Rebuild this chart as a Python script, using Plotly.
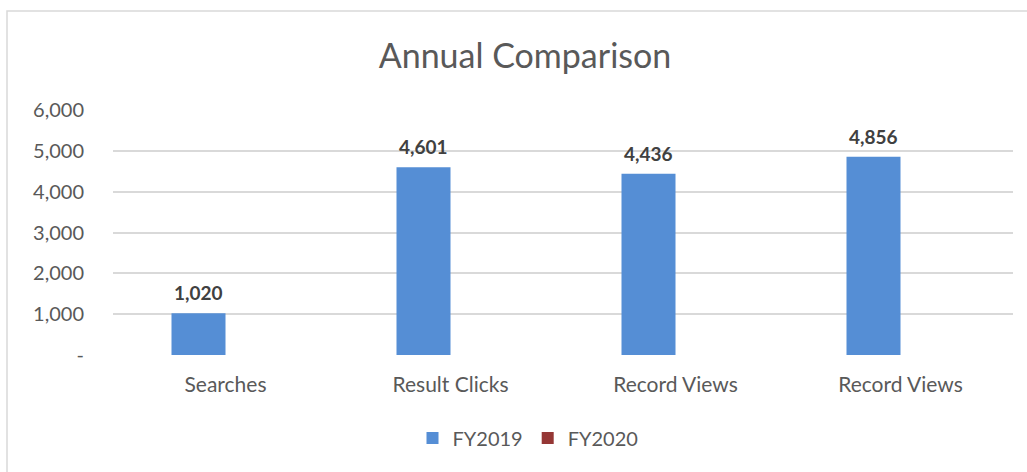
import plotly.graph_objects as go

categories = ["Searches", "Result Clicks", "Record Views", "Record Views"]
fy2019 = [1020, 4601, 4436, 4856]
fy2020 = [0, 0, 0, 0]
y_tickvals = [0, 1000, 2000, 3000, 4000, 5000, 6000]
y_ticktext = ["-", "1,000", "2,000", "3,000", "4,000", "5,000", "6,000"]

FONT = "Lato, 'Open Sans', sans-serif"
idx = list(range(len(categories)))
W = 0.24

fig = go.Figure()
fig.add_trace(go.Bar(x=idx, y=fy2019, name="FY2019", marker_color="#558ED5",
                     width=W, offset=-W, marker_line_width=0))
fig.add_trace(go.Bar(x=idx, y=fy2020, name="FY2020", marker_color="#953735",
                     width=W, offset=0, marker_line_width=0))

for i, v in zip(idx, fy2019):
    fig.add_annotation(x=i - W / 2, y=v, text=f"<b>{v:,}</b>", showarrow=False,
                       yanchor="bottom", yshift=7,
                       font=dict(family=FONT, size=19, color="#404040"))

fig.add_shape(type="rect", xref="paper", yref="paper",
              x0=(7 - 113) / 900, x1=1.2, y0=-0.6, y1=(355 - 11) / 245,
              line=dict(color="#D9D9D9", width=1.5), fillcolor="rgba(0,0,0,0)",
              layer="below")

fig.update_layout(
    width=1027, height=472,
    margin=dict(l=113, r=14, t=110, b=117),
    paper_bgcolor="white", plot_bgcolor="white",
    title=dict(text="Annual Comparison", x=525 / 1027, xanchor="center",
               y=1 - 56 / 472, yanchor="middle",
               font=dict(family=FONT, size=34, color="#595959")),
    showlegend=True,
    legend=dict(orientation="h", x=(528 - 113) / 900, xanchor="center",
                y=(355 - 438) / 245, yanchor="middle",
                font=dict(family=FONT, size=20, color="#595959"),
                itemwidth=30),
    bargap=0.52,
)
fig.update_xaxes(tickmode="array", tickvals=idx, ticktext=categories,
                 range=[-0.5, len(categories) - 0.5], showgrid=False,
                 zeroline=False, showline=False, ticks="",
                 ticklabelstandoff=15,
                 tickfont=dict(family=FONT, size=21, color="#595959"))
fig.update_yaxes(tickmode="array", tickvals=y_tickvals, ticktext=y_ticktext,
                 range=[0, 6000], showgrid=True, gridcolor="#D9D9D9",
                 gridwidth=1.5, zeroline=False, showline=False, ticks="",
                 ticklabelstandoff=28,
                 tickfont=dict(family=FONT, size=20, color="#595959"))

fig.write_html("out.html", config={"displayModeBar": False},
               post_script="document.body.style.margin='0px';")
